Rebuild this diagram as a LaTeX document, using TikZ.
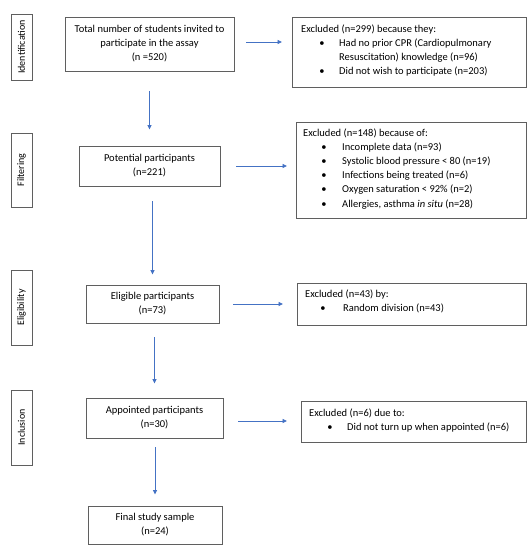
\documentclass[tikz,border=0pt]{standalone}
\usepackage{fontspec}
\setmainfont{Carlito}
\usetikzlibrary{arrows.meta}
\definecolor{arrblue}{RGB}{68,114,196}
\definecolor{boxgray}{RGB}{95,95,95}
\begin{document}
\begin{tikzpicture}[x=1pt,y=-1pt,
  mainbox/.style={draw=boxgray,line width=0.9pt,align=center,inner sep=0pt,
    font=\fontsize{10.5}{14}\selectfont},
  exbox/.style={draw=boxgray,line width=0.9pt,inner sep=0pt,anchor=north west},
  stagebox/.style={draw=boxgray,line width=0.9pt,rotate=90,inner sep=0pt,
    minimum height=21pt,font=\fontsize{10}{12}\selectfont},
  txt/.style={anchor=base west,inner sep=0pt,font=\fontsize{10.5}{14}\selectfont},
  bul/.style={anchor=base,inner sep=0pt,font=\fontsize{10.5}{14}\selectfont},
  arr/.style={draw=arrblue,line width=0.9pt,-{Triangle[length=4.5pt,width=4pt]}}]
\useasboundingbox (0,0) rectangle (531,550);

% stage labels
\node[stagebox,minimum width=66pt] (sid) at (21.5,47) {Identification};
\node[stagebox,minimum width=74pt] (sfi) at (21.5,170) {Filtering};
\node[stagebox,minimum width=75pt] (sel) at (21.5,307.5) {Eligibility};
\node[stagebox,minimum width=75pt] (sin) at (21.5,427.5) {Inclusion};

% main boxes
\node[mainbox,minimum width=169pt,minimum height=54pt] (top) at (149.5,44)
  {Total number of students invited to\\participate in the assay\\(n =520)};
\node[mainbox,minimum width=141pt,minimum height=40pt] (pot) at (149.5,166)
  {Potential participants\\(n=221)};
\node[mainbox,minimum width=133pt,minimum height=38pt] (elig) at (152.5,304)
  {Eligible participants\\(n=73)};
\node[mainbox,minimum width=137pt,minimum height=40pt] (app) at (154.5,418)
  {Appointed participants\\(n=30)};
\node[mainbox,minimum width=134pt,minimum height=38pt] (fin) at (155,525)
  {Final study sample\\(n=24)};

% exclusion boxes
\node[exbox,minimum width=234pt,minimum height=70pt] (ex1) at (292,17) {};
\node[exbox,minimum width=230pt,minimum height=96pt] (ex2) at (296,122) {};
\node[exbox,minimum width=229pt,minimum height=42pt] (ex3) at (297,283) {};
\node[exbox,minimum width=225pt,minimum height=41pt] (ex4) at (301,401) {};

% exclusion texts
\node[txt] (e1a) at (301,32) {Excluded (n=299) because they:};
\node[bul] (b1a) at (322,46) {•};
\node[txt] (e1b) at (339,46) {Had no prior CPR (Cardiopulmonary};
\node[txt] (e1c) at (339,60) {Resuscitation) knowledge (n=96)};
\node[bul] (b1b) at (322,74) {•};
\node[txt] (e1d) at (339,74) {Did not wish to participate (n=203)};

\node[txt] (e2a) at (303,136) {Excluded (n=148) because of:};
\node[bul] (b2a) at (324,150.2) {•};
\node[txt] (e2b) at (342,150.2) {Incomplete data (n=93)};
\node[bul] (b2b) at (324,164.4) {•};
\node[txt] (e2c) at (342,164.4) {Systolic blood pressure < 80 (n=19)};
\node[bul] (b2c) at (324,178.6) {•};
\node[txt] (e2d) at (342,178.6) {Infections being treated (n=6)};
\node[bul] (b2d) at (324,192.8) {•};
\node[txt] (e2e) at (342,192.8) {Oxygen saturation < 92\% (n=2)};
\node[bul] (b2e) at (324,207) {•};
\node[txt] (e2f) at (342,207) {Allergies, asthma \textit{in situ} (n=28)};

\node[txt] (e3a) at (305,297) {Excluded (n=43) by:};
\node[bul] (b3a) at (323,311) {•};
\node[txt] (e3b) at (343,311) {Random division (n=43)};

\node[txt] (e4a) at (309,416) {Excluded (n=6) due to:};
\node[bul] (b4a) at (330,430) {•};
\node[txt] (e4b) at (347,430) {Did not turn up when appointed (n=6)};

% vertical arrows
\draw[arr,shorten <=20pt,shorten >=16pt] (top.south -| pot.north) -- (pot.north);
\draw[arr,shorten <=15pt,shorten >=10pt] (pot.south -| elig.north) -- (elig.north);
\draw[arr,shorten <=14pt,shorten >=14pt] (elig.south -| app.north) -- (app.north);
\draw[arr,shorten <=9pt,shorten >=11pt] (app.south -| fin.north) -- (fin.north);

% horizontal arrows
\draw[arr,shorten <=12pt,shorten >=10pt] ([yshift=2pt]top.east) -- ([yshift=2pt]top.east -| ex1.west);
\draw[arr,shorten <=16pt,shorten >=9pt] (pot.east) -- (pot.east -| ex2.west);
\draw[arr,shorten <=14pt,shorten >=14pt] (elig.east) -- (elig.east -| ex3.west);
\draw[arr,shorten <=15pt,shorten >=14pt] ([yshift=-3pt]app.east) -- ([yshift=-3pt]app.east -| ex4.west);
\end{tikzpicture}
\end{document}
